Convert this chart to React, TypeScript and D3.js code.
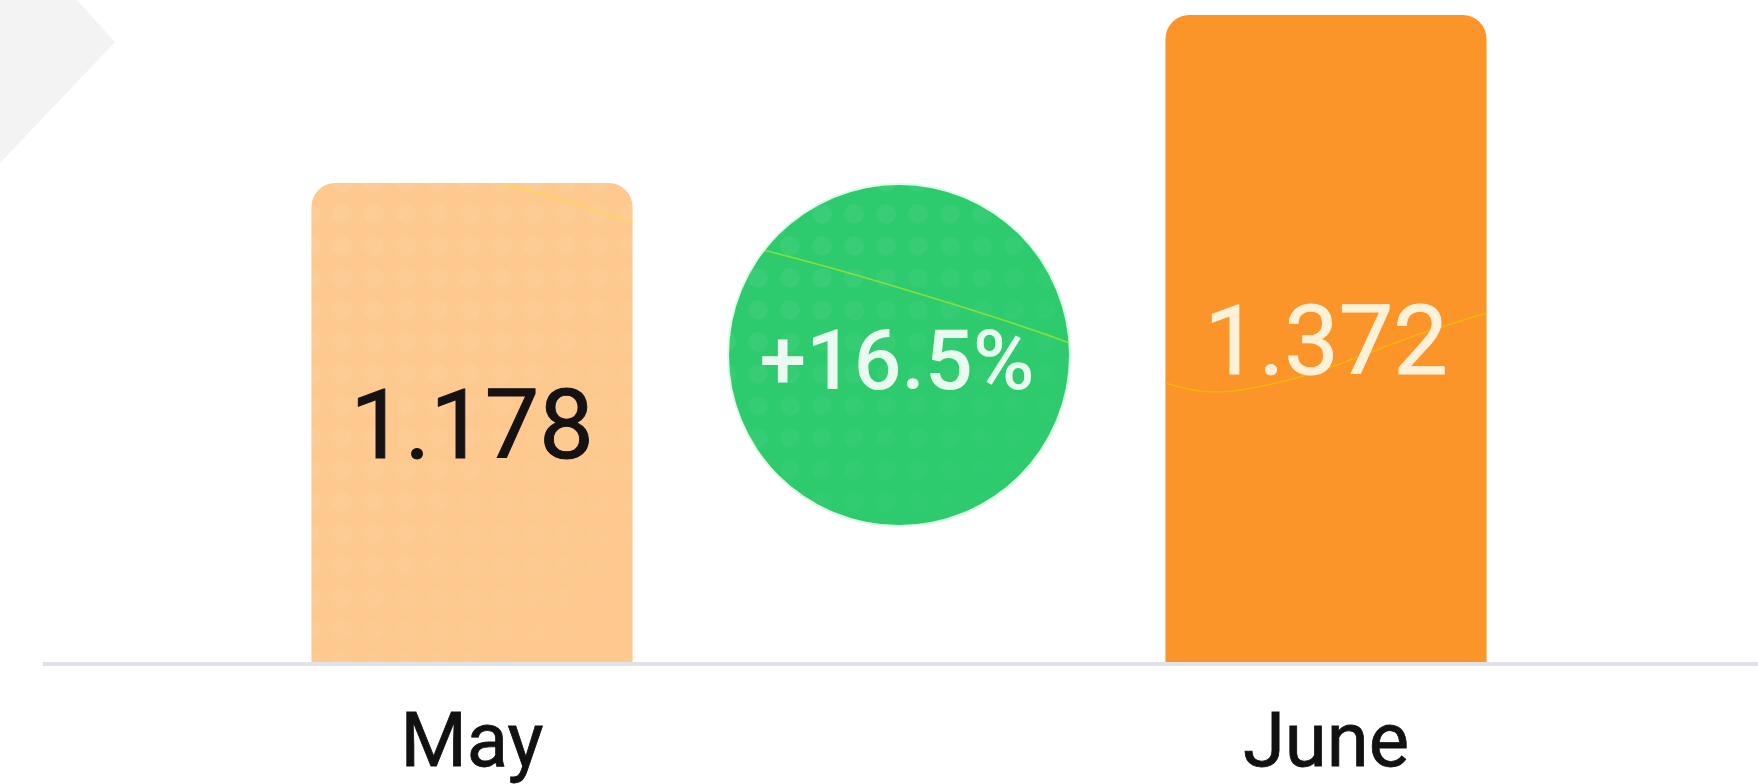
import React from "react";
import * as d3 from "d3";

const categories = ["May", "June"];
const values = [1.178, 1.372];
const valueLabels = ["1.178", "1.372"];
const changeLabel = "+16.5%";
const barColors = ["#fdc98f", "#fb9429"];
const valueTextColors = ["#161212", "#fdf1d8"];
const waveColors = ["#ffd45e", "#f7b20e"];

// decorative glare line seen across the shapes in the picture
const wave: [number, number][] = [
  [470, 176], [560, 199], [632, 222], [763, 250], [900, 288], [1067, 342],
  [1165, 383], [1217, 392], [1300, 377], [1417, 335], [1490, 312],
];

const W = 1758;
const H = 784;
const baseY = 662;
const topY = 15;
const yMin = 0.625;

export default function App() {
  const x = d3
    .scaleBand<string>()
    .domain(categories)
    .range([45, 1753])
    .paddingInner(0.624)
    .paddingOuter(0.312);
  const y = d3
    .scaleLinear()
    .domain([yMin, d3.max(values) as number])
    .range([baseY, topY]);
  const bw = x.bandwidth();
  const r = 24;

  const barPath = (cat: string, v: number) => {
    const x0 = x(cat) as number;
    const x1 = x0 + bw;
    const y0 = y(v);
    const p = d3.path();
    p.moveTo(x0, baseY);
    p.lineTo(x0, y0 + r);
    p.arcTo(x0, y0, x0 + r, y0, r);
    p.lineTo(x1 - r, y0);
    p.arcTo(x1, y0, x1, y0 + r, r);
    p.lineTo(x1, baseY);
    p.closePath();
    return p.toString();
  };

  const cx = ((x(categories[0]) as number) + bw + (x(categories[1]) as number)) / 2;
  const cy = 355;
  const cr = 170;
  const waveD = d3.line().curve(d3.curveCatmullRom)(wave) as string;

  return (
    <svg
      width={W}
      height={H}
      style={{ position: "absolute", left: 0, top: 0, display: "block", background: "#fff" }}
      fontFamily="Roboto, 'Noto Sans', sans-serif"
    >
      <defs>
        <pattern id="dots" width="32" height="32" patternUnits="userSpaceOnUse" x="6" y="6">
          <circle cx="16" cy="16" r="10" fill="#ffffff" />
        </pattern>
        <linearGradient id="fadeG" x1="0" y1="0" x2="0.9" y2="1">
          <stop offset="0" stopColor="#fff" stopOpacity="1" />
          <stop offset="0.55" stopColor="#fff" stopOpacity="0.5" />
          <stop offset="1" stopColor="#fff" stopOpacity="0" />
        </linearGradient>
        <mask id="fadeM" maskContentUnits="objectBoundingBox">
          <rect x="0" y="0" width="1" height="1" fill="url(#fadeG)" />
        </mask>
        {categories.map((c, i) => (
          <clipPath id={`clip${i}`} key={c}>
            <path d={barPath(c, values[i])} />
          </clipPath>
        ))}
        <clipPath id="clipC">
          <circle cx={cx} cy={cy} r={cr} />
        </clipPath>
        <filter id="soft" x="-5%" y="-5%" width="110%" height="110%">
          <feGaussianBlur stdDeviation="0.6" />
        </filter>
      </defs>
      <polygon points="0,0 77,0 115,42 0,163" fill="#f3f3f4" filter="url(#soft)" />
      <line x1={43} x2={W} y1={baseY + 2} y2={baseY + 2} stroke="#dfe3e8" strokeWidth={4} />
      {categories.map((c, i) => (
        <g key={c}>
          <path d={barPath(c, values[i])} fill={barColors[i]} />
          {i === 0 && (
            <path d={barPath(c, values[i])} fill="url(#dots)" opacity={0.07} mask="url(#fadeM)" />
          )}
          <path
            d={waveD}
            clipPath={`url(#clip${i})`}
            fill="none"
            stroke={waveColors[i]}
            strokeWidth={1.6}
          />
          <text
            x={(x(c) as number) + bw / 2}
            y={(y(values[i]) + baseY) / 2 + 35}
            textAnchor="middle"
            fontSize={97}
            fill={valueTextColors[i]}
            stroke={valueTextColors[i]}
            strokeWidth={1}
          >
            {valueLabels[i]}
          </text>
          <text
            x={(x(c) as number) + bw / 2}
            y={766}
            textAnchor="middle"
            fontSize={76}
            fill="#111"
            stroke="#111"
            strokeWidth={0.8}
          >
            {c}
          </text>
        </g>
      ))}
      <circle cx={cx} cy={cy} r={cr + 2} fill="#c8f5d6" opacity={0.6} />
      <circle cx={cx} cy={cy} r={cr} fill="#2dca6e" />
      <circle cx={cx} cy={cy} r={cr} fill="url(#dots)" opacity={0.07} mask="url(#fadeM)" />
      <path d={waveD} clipPath="url(#clipC)" fill="none" stroke="#84e236" strokeWidth={1.6} />
      <text
        x={cx - 2}
        y={cy + 34}
        textAnchor="middle"
        fontSize={84}
        fontWeight={500}
        fill="#e9fbef"
      >
        {changeLabel}
      </text>
    </svg>
  );
}
